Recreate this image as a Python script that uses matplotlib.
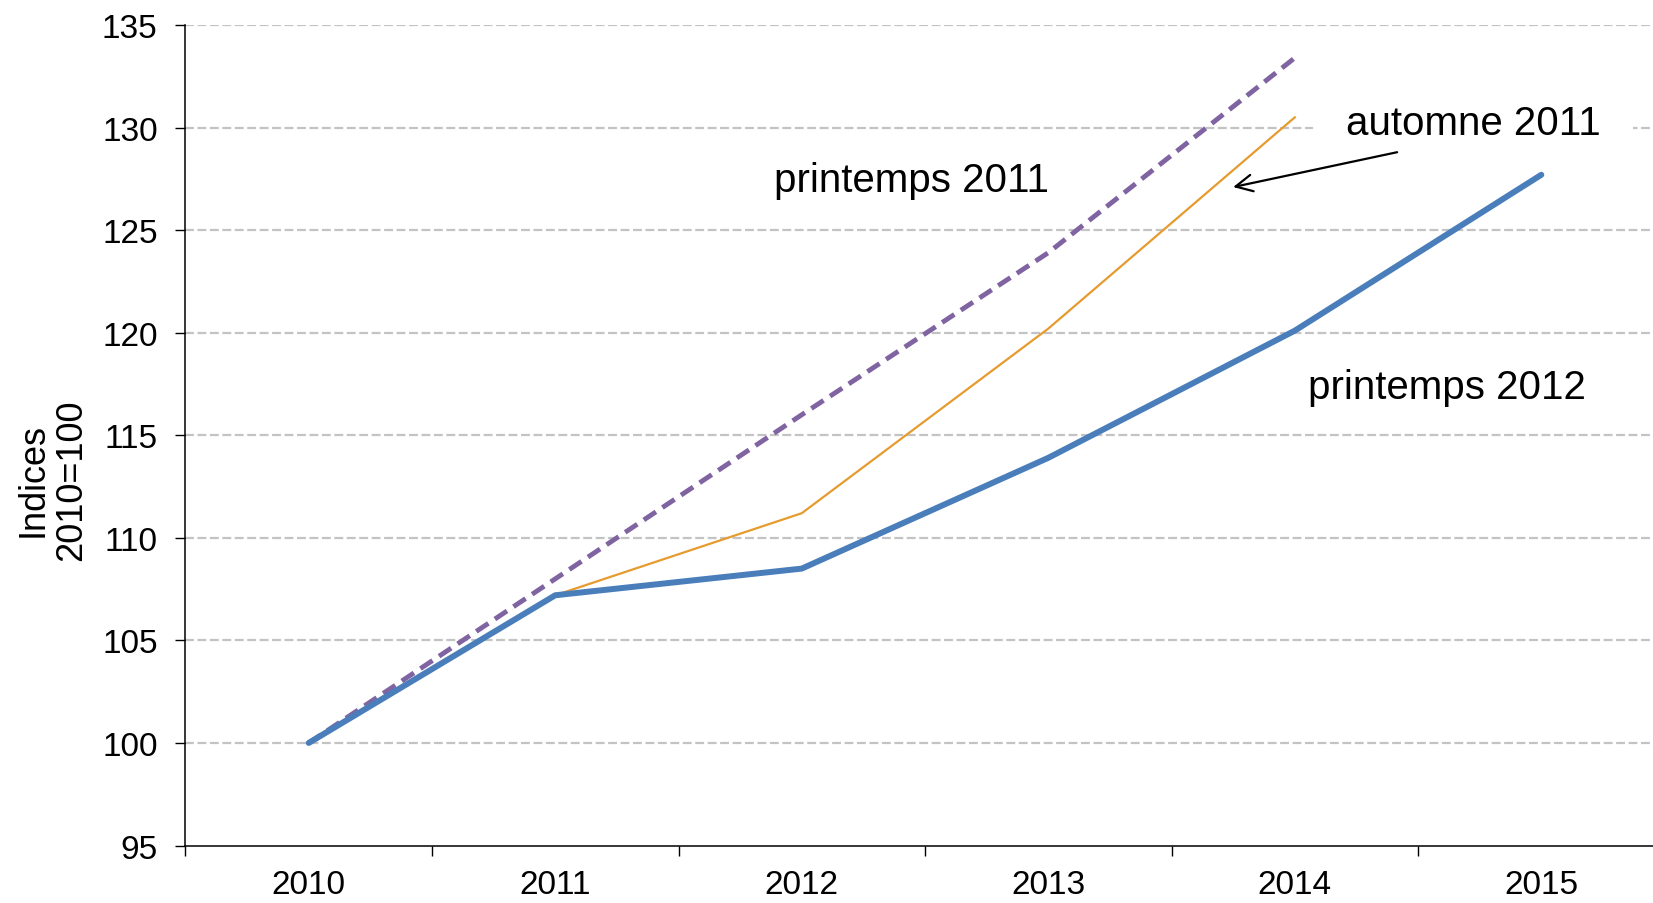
import matplotlib
matplotlib.use('Agg')
import matplotlib.pyplot as plt

plt.rcParams['font.family'] = ['Liberation Sans', 'DejaVu Sans']

# Data
years = ['2010', '2011', '2012', '2013', '2014', '2015']
printemps_2012 = [100.0, 107.2, 108.5, 113.9, 120.1, 127.7]
automne_2011 = [100.0, 107.2, 111.2, 120.2, 130.5]
printemps_2011 = [100.0, 108.0, 116.0, 123.9, 133.4]

fig = plt.figure(figsize=(16.53, 9.04), dpi=100)
ax = fig.add_axes([0.1122, 0.0636, 0.8948, 0.9076])

x_all = list(range(len(years)))

ax.plot(x_all[:len(printemps_2011)], printemps_2011, color='#8064A2', lw=3.5,
        dashes=(3, 1.6), zorder=3, solid_capstyle='butt')
ax.plot(x_all[:len(automne_2011)], automne_2011, color='#E69B2E', lw=1.6, zorder=3)
ax.plot(x_all, printemps_2012, color='#4A7EBB', lw=4.3, zorder=4,
        solid_capstyle='round')

ax.set_xlim(-0.5, len(years) - 0.5)
ax.set_ylim(95, 135)
ax.set_yticks(range(95, 136, 5))
ax.set_xticks(x_all)
ax.set_xticklabels(years)
ax.set_xticks([i + 0.5 for i in range(-1, len(years))], minor=True)

ax.tick_params(axis='x', which='major', length=0, pad=17, labelsize=24)
ax.tick_params(axis='x', which='minor', length=7, width=1, direction='out')
ax.tick_params(axis='y', length=7, width=1, pad=13, labelsize=24)

for s in ['top', 'right']:
    ax.spines[s].set_visible(False)
for s in ['left', 'bottom']:
    ax.spines[s].set_linewidth(1.1)

for v in range(100, 136, 5):
    ax.axhline(v, color='#C3C3C3', lw=1.6, dashes=(4, 1.6), zorder=1)

ax.set_ylabel('Indices\n2010=100', fontsize=26, va='center', linespacing=1.1)
ax.yaxis.set_label_coords(-0.09, 0.447)

box = dict(boxstyle='square,pad=0.8', fc='white', ec='none')
ax.text(2.447, 127.45, 'printemps 2011', fontsize=29, ha='center', va='center',
        zorder=1.5)
ax.text(4.723, 130.23, 'automne 2011', fontsize=29, ha='center', va='center',
        bbox=box, zorder=1.5)
ax.text(4.617, 117.35, 'printemps 2012', fontsize=29, ha='center', va='center',
        zorder=1.5)

ax.annotate('', xy=(3.75, 127.1), xytext=(4.415, 128.8),
            arrowprops=dict(arrowstyle='->', color='black', lw=1.6,
                            mutation_scale=30, shrinkA=0, shrinkB=0),
            zorder=5)

fig.savefig('out.png', dpi=100)
